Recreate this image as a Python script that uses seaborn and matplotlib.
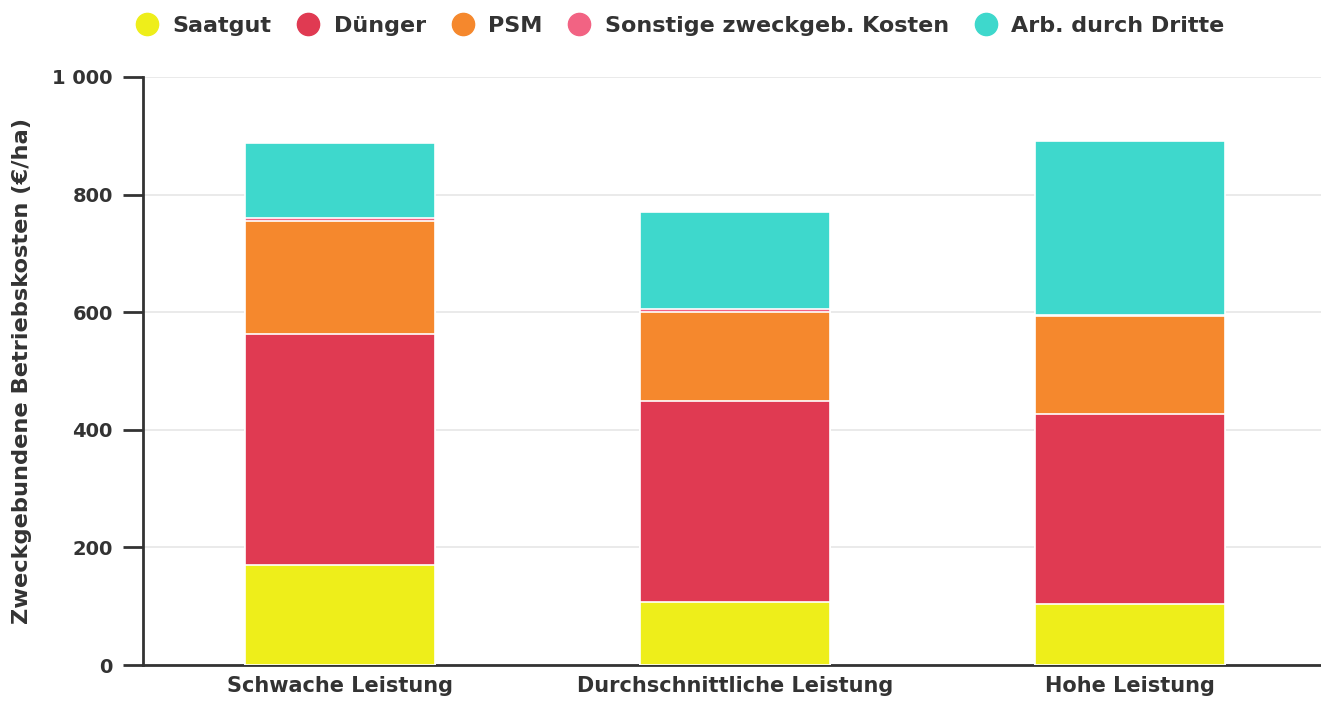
import pandas as pd
import seaborn as sns
import matplotlib.pyplot as plt
from matplotlib.lines import Line2D
from matplotlib.ticker import FuncFormatter

categories = ['Schwache Leistung', 'Durchschnittliche Leistung', 'Hohe Leistung']
saatgut = [170, 107, 104]
duenger = [393, 342, 323]
psm = [192, 151, 167]
sonstige = [5, 6, 1]
arb_dritte = [128, 164, 296]

series_names = ['Saatgut', 'Dünger', 'PSM', 'Sonstige zweckgeb. Kosten', 'Arb. durch Dritte']
series_colors = ['#EEEE1A', '#E03A52', '#F5882D', '#F26383', '#3ED8CC']

df = pd.DataFrame({'Leistung': categories, 'Saatgut': saatgut, 'Dünger': duenger,
                   'PSM': psm, 'Sonstige zweckgeb. Kosten': sonstige,
                   'Arb. durch Dritte': arb_dritte})
# cumulative sums for stacking
cum = df[series_names].cumsum(axis=1)
cum['Leistung'] = df['Leistung']

sns.set_style('white')
plt.rcParams['font.family'] = ['DejaVu Sans']

fig = plt.figure(figsize=(13.21, 7.06), dpi=100)
ax = fig.add_axes([0.108, 0.058, 0.897, 0.833])

# draw from the top of the stack down so each lower segment covers the previous
for name, color in reversed(list(zip(series_names, series_colors))):
    sns.barplot(data=cum, x='Leistung', y=name, color=color, width=0.48,
                edgecolor='white', linewidth=1.2, saturation=1, ax=ax, zorder=3)

ax.set_ylim(0, 1000)
ax.set_xlim(-0.5, 2.5)
ax.set_yticks([0, 200, 400, 600, 800, 1000])
ax.yaxis.set_major_formatter(FuncFormatter(lambda v, p: f'{int(v):,}'.replace(',', ' ')))
ax.grid(axis='y', color='#e6e6e6', linewidth=1.2, zorder=0)
ax.set_axisbelow(True)

for s in ['top', 'right']:
    ax.spines[s].set_visible(False)
for s in ['left', 'bottom']:
    ax.spines[s].set_color('#333333')
    ax.spines[s].set_linewidth(2)

ax.tick_params(axis='y', length=14.5, width=2, color='#333333', labelsize=14,
               labelcolor='#333333', pad=7, left=True)
ax.tick_params(axis='x', length=0, labelsize=15, labelcolor='#333333', pad=8)
for lab in ax.get_xticklabels() + ax.get_yticklabels():
    lab.set_fontweight('bold')

ax.set_xlabel('')
ax.set_ylabel('Zweckgebundene Betriebskosten (€/ha)', fontsize=16.2,
              fontweight='bold', color='#333333')
ax.yaxis.set_label_coords(-0.093, 0.5)

handles = [Line2D([0], [0], marker='o', linestyle='', markersize=16,
                  markerfacecolor=c, markeredgecolor=c) for c in series_colors]
leg = fig.legend(handles, series_names, loc='center', bbox_to_anchor=(0.514, 0.963),
                 ncol=5, frameon=False, handletextpad=0.55, columnspacing=1.05,
                 handlelength=1.2, prop={'weight': 'bold', 'size': 16})
for t in leg.get_texts():
    t.set_color('#333333')

fig.savefig('out.png', dpi=100)
